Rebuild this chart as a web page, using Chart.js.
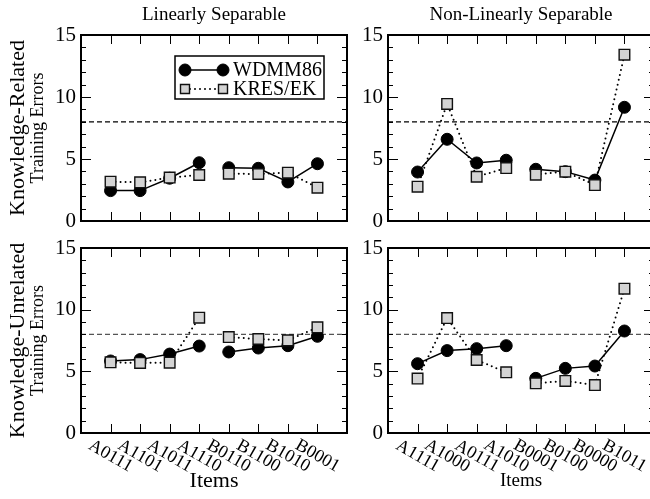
<!DOCTYPE html>
<html>
<head>
<meta charset="utf-8">
<script src="https://cdn.jsdelivr.net/npm/chart.js@4.4.0/dist/chart.umd.min.js"></script>
<style>
  html, body { margin: 0; padding: 0; background: #fff; overflow: hidden; width: 650px; height: 499px; }
  canvas { position: absolute; }
</style>
</head>
<body>
<canvas id="tl" width="360" height="240" style="left:0;top:0"></canvas>
<canvas id="tr" width="340" height="240" style="left:330px;top:0"></canvas>
<canvas id="bl" width="360" height="279" style="left:0;top:220px"></canvas>
<canvas id="br" width="340" height="279" style="left:330px;top:220px"></canvas>
<script>
/* categories */
const itemsLS  = ['A0111', 'A1101', 'A1011', 'A1110', 'B0110', 'B1100', 'B1010', 'B0001'];
const itemsNLS = ['A1111', 'A1000', 'A0111', 'A1010', 'B0001', 'B0100', 'B0000', 'B1011'];
const groupSize = 4;       // A items | B items, no line between the groups
const criterion = 8;       // dashed line
const yMax = 15;

/* knowledge-related */
const wdmmRelLS  = [2.45, 2.45, 3.45, 4.70, 4.30, 4.25, 3.15, 4.62];
const kresRelLS  = [3.17, 3.12, 3.50, 3.71, 3.82, 3.79, 3.90, 2.69];
const wdmmRelNLS = [3.95, 6.59, 4.68, 4.90, 4.17, 3.98, 3.30, 9.17];
const kresRelNLS = [2.77, 9.44, 3.57, 4.27, 3.74, 3.98, 2.90, 13.41];

/* knowledge-unrelated */
const wdmmUnrLS  = [5.84, 5.95, 6.40, 7.05, 6.57, 6.89, 7.08, 7.84];
const kresUnrLS  = [5.73, 5.68, 5.70, 9.35, 7.78, 7.62, 7.51, 8.57];
const wdmmUnrNLS = [5.62, 6.68, 6.84, 7.08, 4.43, 5.24, 5.43, 8.27];
const kresUnrNLS = [4.41, 9.32, 5.92, 4.92, 4.03, 4.22, 3.89, 11.70];

const FONT = "'Liberation Serif', 'Times New Roman', serif";
Chart.defaults.font.family = FONT;
Chart.defaults.color = '#000';
Chart.defaults.animation = false;

function pts(vals) {
    return vals.map((v, i) => ({x: i + 1, y: v}));
}
const hideGap = c => (c.p0DataIndex === groupSize - 1 ? 'rgba(0,0,0,0)' : undefined);

/* frame, inward ticks, rotated item labels, side texts, legend */
const panelDecor = {
    id: 'panelDecor',
    afterDraw(chart, args, o) {
        const ctx = chart.ctx, a = chart.chartArea;
        const xs = chart.scales.x, ys = chart.scales.y;
        ctx.save();
        ctx.strokeStyle = '#000';
        ctx.lineWidth = 1;
        ctx.beginPath();
        for (let v = 0; v <= yMax; v++) {
            const py = Math.round(ys.getPixelForValue(v)) + 0.5;
            const len = v % 5 ? 5 : 10;
            ctx.moveTo(a.left, py);  ctx.lineTo(a.left + len, py);
            ctx.moveTo(a.right, py); ctx.lineTo(a.right - len, py);
        }
        o.items.forEach((_, i) => {
            const px = Math.round(xs.getPixelForValue(i + 1)) + 0.5;
            ctx.moveTo(px, a.top);    ctx.lineTo(px, a.top + 9);
            ctx.moveTo(px, a.bottom); ctx.lineTo(px, a.bottom - 9);
        });
        ctx.stroke();
        ctx.lineWidth = 2;
        ctx.strokeRect(a.left, a.top, a.right - a.left, a.bottom - a.top);

        ctx.fillStyle = '#000';
        ctx.textBaseline = 'middle';
        ctx.textAlign = 'center';
        const cx = (a.left + a.right) / 2, cy = (a.top + a.bottom) / 2;

        if (o.title) {
            ctx.font = '19px ' + FONT;
            ctx.fillText(o.title, cx, a.top - 20);
        }
        if (o.yLabel) {
            ctx.save();
            ctx.translate(18, cy);
            ctx.rotate(-Math.PI / 2);
            ctx.font = '22px ' + FONT;
            ctx.fillText(o.yLabel[0], 0, 0);
            ctx.font = '18px ' + FONT;
            ctx.fillText(o.yLabel[1], 0, 20);
            ctx.restore();
        }
        if (o.showItems) {
            ctx.font = '18px ' + FONT;
            o.items.forEach((t, i) => {
                ctx.save();
                ctx.translate(xs.getPixelForValue(i + 1), a.bottom + 23);
                ctx.rotate(Math.PI / 6);
                ctx.fillText(t, 0, 0);
                ctx.restore();
            });
            ctx.font = o.xTitleSize + 'px ' + FONT;
            ctx.fillText('Items', cx, a.bottom + 48);
        }
        if (o.legend) {
            const lx = a.left + 94, ly = a.top + 21, lw = 149, lh = 43;
            ctx.fillStyle = '#fff';
            ctx.fillRect(lx, ly, lw, lh);
            ctx.lineWidth = 1.5;
            ctx.strokeRect(lx, ly, lw, lh);
            const rows = ['WDMM86', 'KRES/EK'].map(l => chart.data.datasets.find(d => d.label === l));
            rows.forEach((d, r) => {
                const ry = ly + 14 + r * 19;
                const x0 = lx + 10, x1 = lx + 48;
                ctx.save();
                ctx.strokeStyle = d.borderColor;
                ctx.lineWidth = d.borderWidth;
                ctx.lineCap = d.borderCapStyle || 'butt';
                ctx.setLineDash(d.borderDash || []);
                ctx.beginPath();
                ctx.moveTo(x0, ry); ctx.lineTo(x1, ry);
                ctx.stroke();
                ctx.restore();
                [x0, x1].forEach(px => {
                    ctx.fillStyle = d.pointBackgroundColor;
                    ctx.strokeStyle = d.pointBorderColor;
                    ctx.lineWidth = d.pointBorderWidth;
                    ctx.beginPath();
                    if (d.pointStyle === 'rect') {
                        const s = 4.5;
                        ctx.rect(px - s, ry - s, 2 * s, 2 * s);
                    } else {
                        ctx.arc(px, ry, d.pointRadius, 0, Math.PI * 2);
                    }
                    ctx.fill();
                    ctx.stroke();
                });
                ctx.fillStyle = '#000';
                ctx.textAlign = 'left';
                ctx.font = '20px ' + FONT;
                ctx.fillText(d.label, lx + 58, ry + 1);
            });
        }
        ctx.restore();
    }
};

function makePanel(id, cfg) {
    const datasets = [
        {
            label: 'KRES/EK',
            data: pts(cfg.kres),
            order: 1,
            borderColor: '#000',
            borderWidth: 2,
            borderDash: [0, 5],
            borderCapStyle: 'round',
            pointStyle: 'rect',
            pointRadius: 7.5,
            pointBackgroundColor: '#d4d4d4',
            pointBorderColor: '#111',
            pointBorderWidth: 1.4,
            segment: {borderColor: hideGap}
        },
        {
            label: 'WDMM86',
            data: pts(cfg.wdmm),
            order: 2,
            borderColor: '#000',
            borderWidth: 1.5,
            pointStyle: 'circle',
            pointRadius: 6,
            pointBackgroundColor: '#000',
            pointBorderColor: '#000',
            pointBorderWidth: 1,
            segment: {borderColor: hideGap}
        },
        {
            label: 'criterion',
            data: [{x: 0, y: criterion}, {x: cfg.items.length + 1, y: criterion}],
            order: 3,
            borderColor: cfg.dashColor,
            borderWidth: 1.2,
            borderDash: [5, 3],
            pointRadius: 0
        }
    ];
    return new Chart(document.getElementById(id), {
        type: 'line',
        data: {datasets: datasets},
        options: {
            responsive: false,
            layout: {padding: cfg.padding},
            plugins: {
                legend: {display: false},
                tooltip: {enabled: false},
                panelDecor: {
                    items: cfg.items,
                    title: cfg.title,
                    yLabel: cfg.yLabel,
                    showItems: cfg.showItems,
                    xTitleSize: cfg.xTitleSize,
                    legend: cfg.legend
                }
            },
            scales: {
                x: {type: 'linear', display: false, min: 0, max: cfg.items.length + 1},
                y: {
                    min: 0, max: yMax,
                    grid: {display: false, drawTicks: false},
                    border: {display: false},
                    ticks: {
                        stepSize: 1,
                        autoSkip: false,
                        padding: 5,
                        font: {size: 21},
                        callback: v => (v % 5 === 0 ? v : '')
                    },
                    afterFit: s => { s.width = cfg.yWidth; }
                }
            }
        },
        plugins: [panelDecor]
    });
}

makePanel('tl', {
    items: itemsLS, wdmm: wdmmRelLS, kres: kresRelLS,
    title: 'Linearly Separable', yLabel: ['Knowledge-Related', 'Training Errors'],
    legend: true, showItems: false, dashColor: '#000',
    yWidth: 81, padding: {top: 35, right: 13, bottom: 19, left: 0}
});
makePanel('tr', {
    items: itemsNLS, wdmm: wdmmRelNLS, kres: kresRelNLS,
    title: 'Non-Linearly Separable', yLabel: null,
    legend: false, showItems: false, dashColor: '#000',
    yWidth: 58, padding: {top: 35, right: 16, bottom: 19, left: 0}
});
makePanel('bl', {
    items: itemsLS, wdmm: wdmmUnrLS, kres: kresUnrLS,
    title: null, yLabel: ['Knowledge-Unrelated', 'Training Errors'],
    legend: false, showItems: true, xTitleSize: 22, dashColor: '#555',
    yWidth: 81, padding: {top: 28, right: 13, bottom: 66, left: 0}
});
makePanel('br', {
    items: itemsNLS, wdmm: wdmmUnrNLS, kres: kresUnrNLS,
    title: null, yLabel: null,
    legend: false, showItems: true, xTitleSize: 19, dashColor: '#555',
    yWidth: 58, padding: {top: 28, right: 16, bottom: 66, left: 0}
});
</script>
</body>
</html>
